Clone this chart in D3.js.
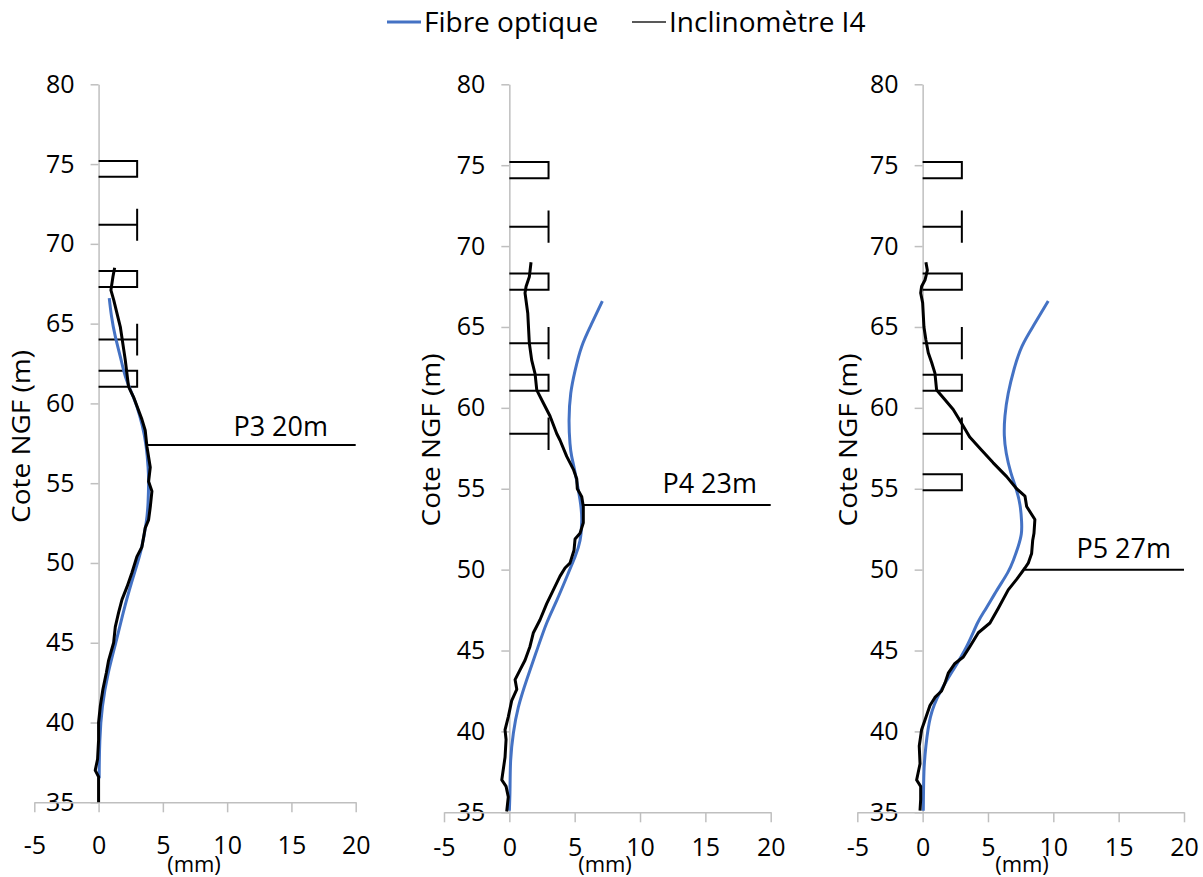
<!DOCTYPE html>
<html>
<head>
<meta charset="utf-8">
<script src="https://cdn.jsdelivr.net/npm/d3@7"></script>
<style>
  html, body { margin: 0; padding: 0; background: #fff; }
  svg { display: block; font-family: "Open Sans", "Noto Sans", sans-serif; }
</style>
</head>
<body>
<svg id="chart" width="1203" height="877"></svg>
<script>
// ---------------- DATA ----------------
const seriesNames = ["Fibre optique", "Inclinomètre I4"];
const xTicks = [-5, 0, 5, 10, 15, 20];
const yTicks = [35, 40, 45, 50, 55, 60, 65, 70, 75, 80];
const xUnitLabel = "(mm)";
const yTitle = "Cote NGF (m)";

const pileLabels = ["P3 20m", "P4 23m", "P5 27m"];
const pileLevels = [57.4, 54.0, 50.0];
const pileStartX = [3.84, 5.66, 7.83];

const markerWidth = 3;
// open boxes [lower, upper]
const boxMarkersP3 = [[74.2, 75.2], [67.3, 68.3], [61.05, 62.05]];
const boxMarkersP4 = [[74.2, 75.2], [67.3, 68.3], [61.05, 62.05]];
const boxMarkersP5 = [[74.2, 75.2], [67.3, 68.3], [61.05, 62.05], [54.9, 55.9]];
// T markers: level (cap spans +/-1)
const tMarkersP3 = [71.2, 64.0];
const tMarkersP4 = [71.2, 64.0, 58.4];
const tMarkersP5 = [71.2, 64.0, 58.4];

// [displacement mm, cote m]
const fibreP3 = [[0.83,66.6],[1.0,65.5],[1.3,64.2],[1.7,62.9],[2.08,61.7],[2.6,60.6],[2.98,59.8],[3.4,58.6],[3.7,57.3],[3.85,56.0],[3.89,55.0],[3.85,53.8],[3.7,52.5],[3.3,50.8],[2.8,49.4],[2.05,47.3],[1.4,45.2],[0.75,43.1],[0.3,41.0],[0.1,38.9],[0.05,37.0],[0.05,36.5]];
const inclP3 = [[1.25,68.5],[1.12,67.95],[0.96,67.1],[1.17,66.5],[1.69,64.8],[2.08,62.7],[2.33,61.05],[2.72,60.4],[3.37,59.0],[3.63,58.3],[3.76,57.3],[4.02,56.0],[3.89,55.1],[4.15,54.5],[4.02,53.5],[3.89,52.7],[3.63,52.2],[3.37,51.0],[2.98,50.4],[2.6,49.4],[2.21,48.5],[1.82,47.7],[1.56,46.9],[1.3,46.0],[1.17,45.0],[0.78,43.9],[0.6,43.1],[0.34,42.1],[0.13,41.0],[0,40.0],[0,38.9],[-0.08,37.7],[-0.26,37.0],[0,36.6],[0,35.0]];

const fibreP4 = [[7.12,66.6],[6.3,65.2],[5.54,63.8],[5.03,62.3],[4.7,60.9],[4.57,59.25],[4.64,57.8],[4.77,57.0],[5.03,56.0],[5.41,54.3],[5.54,53.1],[5.41,51.8],[5.03,50.8],[4.52,49.8],[3.63,48.1],[2.86,46.7],[2.1,45.0],[1.33,43.2],[0.69,41.5],[0.31,39.9],[0.1,38.2],[0.05,36.4],[0,35.1]];
const inclP4 = [[1.66,69.0],[1.53,68.1],[1.28,67.5],[1.2,67.1],[1.41,65.85],[1.53,64.0],[1.71,62.95],[1.97,62.1],[2.1,61.1],[2.6,60.3],[3.11,59.5],[3.63,58.4],[3.88,58.0],[4.39,57.0],[4.9,56.2],[5.16,55.6],[5.2,55.0],[5.54,54.5],[5.66,53.9],[5.66,52.9],[5.41,52.25],[5.03,51.9],[4.95,51.2],[4.64,50.4],[4.26,50.1],[3.88,49.6],[3.37,48.75],[2.86,47.9],[2.35,46.9],[1.84,46.1],[1.58,45.25],[1.2,44.4],[0.82,43.8],[0.44,43.2],[0.57,42.6],[0.18,41.9],[-0.08,40.9],[-0.33,40.1],[-0.25,39.5],[-0.33,38.4],[-0.58,37.0],[-0.25,36.6],[-0.08,35.95],[-0.2,35.05]];

const fibreP5 = [[9.61,66.6],[8.5,65.1],[7.6,63.8],[7.0,62.4],[6.55,60.9],[6.3,59.5],[6.25,58.3],[6.4,57.2],[6.75,56.0],[7.15,55.0],[7.45,54.0],[7.57,53.0],[7.55,52.2],[7.3,51.4],[6.95,50.6],[6.5,49.8],[5.7,48.75],[4.85,47.6],[4.2,46.7],[3.37,45.25],[2.34,43.8],[1.32,42.4],[0.6,40.9],[0.25,39.1],[0.1,37.5],[0.05,35.1]];
const inclP5 = [[0.25,69.0],[0.36,68.5],[0.18,67.9],[-0.08,67.5],[-0.15,67.1],[0,66.5],[0.1,65.0],[0.25,64.2],[0.43,63.4],[0.69,62.8],[0.94,62.15],[1.07,61.1],[1.71,60.5],[2.34,59.9],[2.98,59.05],[3.6,58.2],[4.5,57.4],[5.4,56.6],[6.43,55.75],[7.19,55.0],[7.83,54.55],[7.96,53.9],[8.59,53.1],[8.52,52.25],[8.42,51.8],[8.34,51.0],[8.08,50.4],[7.83,50.1],[7.19,49.4],[6.55,48.75],[5.78,47.6],[5.15,46.7],[4.26,46.1],[3.62,45.25],[3.11,44.6],[2.47,44.2],[1.96,43.6],[1.71,43.0],[1.45,42.5],[0.94,42.1],[0.56,41.6],[0.18,40.7],[-0.08,40.1],[-0.26,39.1],[-0.2,38.0],[-0.46,37.0],[-0.15,36.6],[-0.15,35.8],[-0.2,35.1]];

// ---------------- LAYOUT ----------------
const panels = [
  { fibre: fibreP3, incl: inclP3, boxes: boxMarkersP3, ts: tMarkersP3, pile: 0,
    xr: [34.3, 355.7], yr: [802.3, 84.3], titleX: 21, titleY: 436.5, xLabelY: 854, unitX: 194, labelEnd: 328 },
  { fibre: fibreP4, incl: inclP4, boxes: boxMarkersP4, ts: tMarkersP4, pile: 1,
    xr: [444, 770.7], yr: [812.3, 84.3], titleX: 431, titleY: 440, xLabelY: 856, unitX: 605, labelEnd: 757 },
  { fibre: fibreP5, incl: inclP5, boxes: boxMarkersP5, ts: tMarkersP5, pile: 2,
    xr: [857.3, 1184], yr: [812.3, 84.3], titleX: 848, titleY: 440, xLabelY: 856, unitX: 1022, labelEnd: 1171 }
];

const AXIS_COLOR = "#bfbfbf";
const BLUE = "#4472c4";
const svg = d3.select("#chart");

panels.forEach(p => {
  const x = d3.scaleLinear().domain([-5, 20]).range(p.xr);
  const y = d3.scaleLinear().domain([35, 80]).range(p.yr);
  const g = svg.append("g");

  // y axis (at x = 0)
  const ya = g.append("g").attr("transform", `translate(${x(0)},0)`)
    .call(d3.axisLeft(y).tickValues(yTicks).tickSize(8).tickPadding(16).tickSizeOuter(0));
  ya.select(".domain").attr("stroke", AXIS_COLOR).attr("stroke-width", 1.5);
  ya.selectAll(".tick line").attr("stroke", AXIS_COLOR).attr("stroke-width", 1.5);
  ya.selectAll(".tick text").attr("fill", "#000").style("font-size", "25px")
    .style("font-family", "'Open Sans', sans-serif");

  // x axis (at y = 35)
  const xa = g.append("g").attr("transform", `translate(0,${y(35)})`)
    .call(d3.axisBottom(x).tickValues(xTicks).tickSize(10).tickSizeOuter(0).tickFormat(d => String(d)));
  xa.select(".domain").attr("stroke", AXIS_COLOR).attr("stroke-width", 1.5);
  xa.selectAll(".tick line").attr("stroke", AXIS_COLOR).attr("stroke-width", 1.5);
  xa.selectAll(".tick text").attr("fill", "#000").style("font-size", "25px")
    .style("font-family", "'Open Sans', sans-serif")
    .attr("dy", null).attr("y", p.xLabelY - y(35));

  // unit label
  g.append("text").attr("x", p.unitX).attr("y", 872).attr("text-anchor", "middle")
    .style("font-size", "22px").attr("fill", "#000").text(xUnitLabel);

  // y title
  g.append("text")
    .attr("transform", `translate(${p.titleX},${p.titleY}) rotate(-90)`)
    .attr("text-anchor", "middle").attr("dy", "0.36em")
    .attr("textLength", 173).attr("lengthAdjust", "spacingAndGlyphs")
    .style("font-size", "25px").attr("fill", "#000").text(yTitle);

  // box markers
  g.selectAll(".box").data(p.boxes).enter().append("path")
    .attr("fill", "none").attr("stroke", "#000").attr("stroke-width", 2)
    .attr("d", d => `M${x(0)},${y(d[1])}H${x(markerWidth)}V${y(d[0])}H${x(0)}`);

  // T markers
  g.selectAll(".tm").data(p.ts).enter().append("path")
    .attr("fill", "none").attr("stroke", "#000").attr("stroke-width", 2)
    .attr("d", d => `M${x(0)},${y(d)}H${x(markerWidth)}M${x(markerWidth)},${y(d + 1)}V${y(d - 1)}`);

  // pile line
  const lvl = pileLevels[p.pile];
  g.append("line").attr("x1", x(pileStartX[p.pile])).attr("x2", x(20))
    .attr("y1", y(lvl)).attr("y2", y(lvl)).attr("stroke", "#000").attr("stroke-width", 2);
  g.append("text").attr("x", p.labelEnd).attr("y", y(lvl) - (p.pile === 0 ? 8.5 : 12))
    .attr("text-anchor", "end").style("font-size", "27px").attr("fill", "#000")
    .text(pileLabels[p.pile]);

  // curves
  const smooth = d3.line().x(d => x(d[0])).y(d => y(d[1])).curve(d3.curveNatural);
  const jag = d3.line().x(d => x(d[0])).y(d => y(d[1]));
  g.append("path").datum(p.fibre).attr("d", smooth)
    .attr("fill", "none").attr("stroke", BLUE).attr("stroke-width", 3);
  g.append("path").datum(p.incl).attr("d", jag)
    .attr("fill", "none").attr("stroke", "#000").attr("stroke-width", 3)
    .attr("stroke-linejoin", "round");
});

// legend
const legend = svg.append("g");
const legendItems = [
  { name: seriesNames[0], color: BLUE, w: 3, x0: 387 },
  { name: seriesNames[1], color: "#222", w: 1.5, x0: 632 }
];
legendItems.forEach(it => {
  legend.append("line").attr("x1", it.x0).attr("x2", it.x0 + 34).attr("y1", 22).attr("y2", 22)
    .attr("stroke", it.color).attr("stroke-width", it.w);
  legend.append("text").attr("x", it.x0 + 37).attr("y", 32).style("font-size", "28px")
    .attr("fill", "#000").text(it.name);
});
</script>
</body>
</html>
